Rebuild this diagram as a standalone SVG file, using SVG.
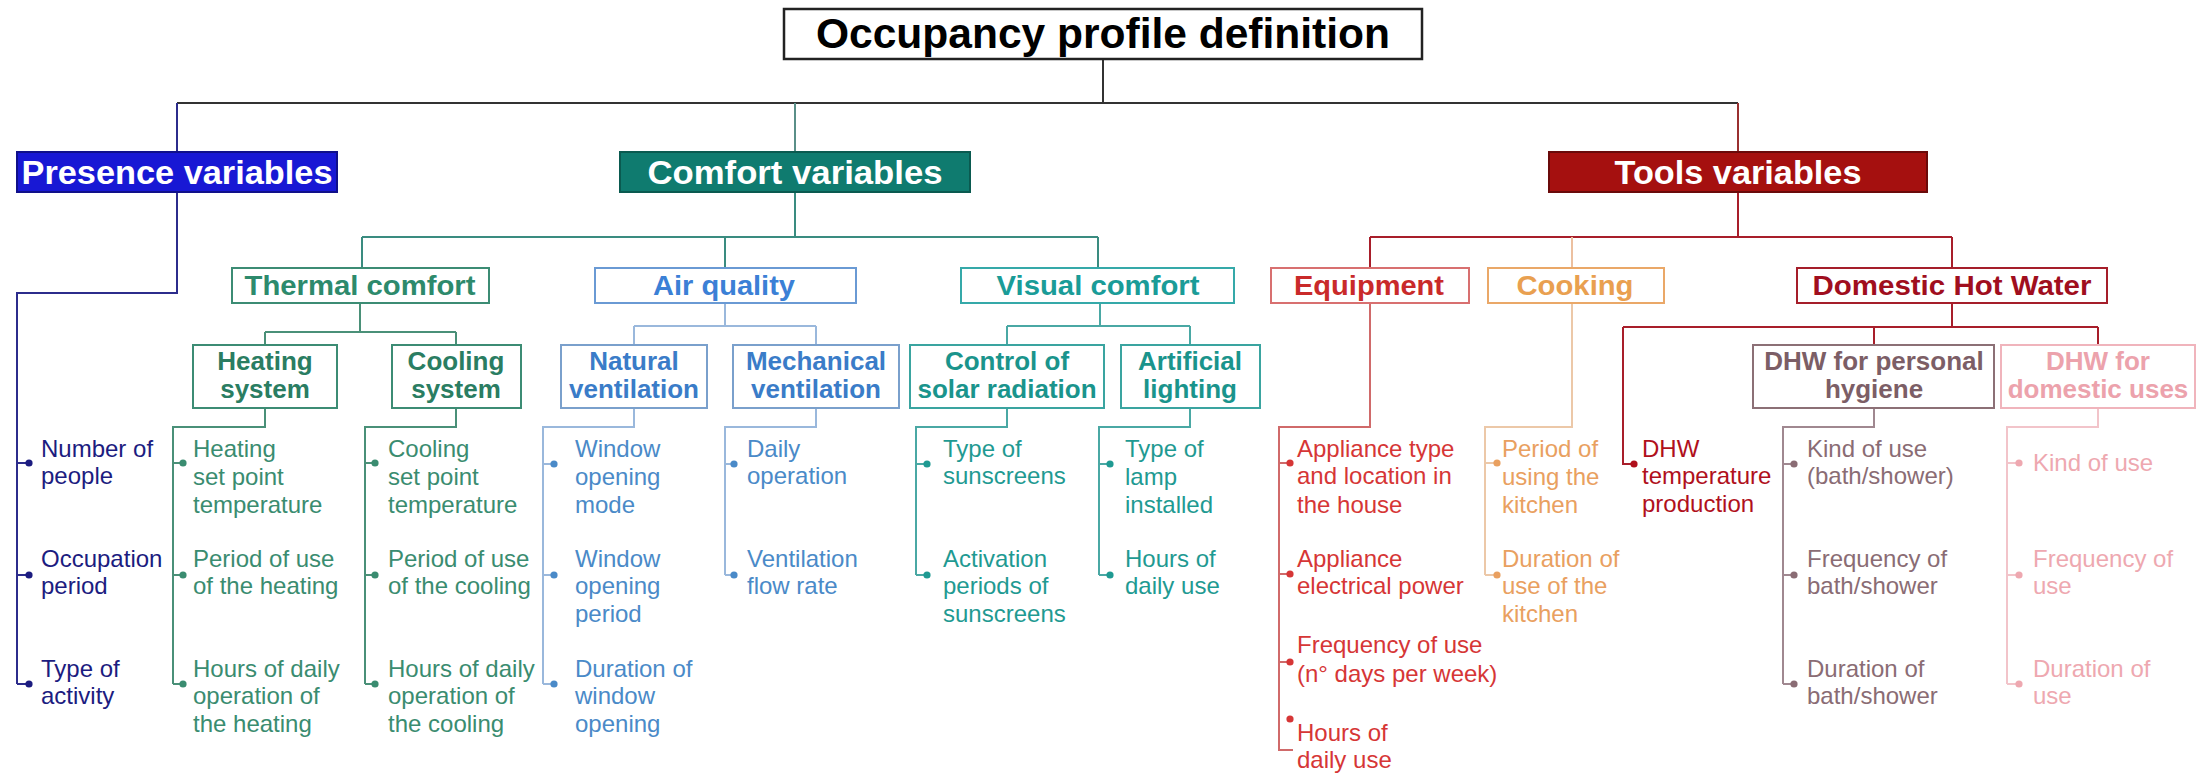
<svg xmlns="http://www.w3.org/2000/svg" width="2206" height="777" viewBox="0 0 2206 777">
<style>
text{font-family:"Liberation Sans",Arial,Helvetica,sans-serif}
.t0{font-size:42px;font-weight:bold;fill:#000;text-anchor:middle}
.t1{font-size:34px;font-weight:bold;fill:#fff;text-anchor:middle}
.t2{font-size:27px;font-weight:bold;text-anchor:middle}
.t3{font-size:26px;font-weight:bold;text-anchor:middle}
.lf{font-size:24px}
.cn path{fill:none;stroke-width:2}
.bx{fill:#fff;stroke-width:2}
</style>
<defs>
<circle id="dot" r="3.6"/>
</defs>

<g id="connectors" class="cn">
  <path d="M1103 59V103M177 103H1738" stroke="#333"/>
  <path d="M177 103V152M177 192V293H17V684M17 463H29M17 575H29M17 684H29" stroke="#2c2c8c"/>
  <path d="M795 103V152" stroke="#5a8f88"/>
  <path d="M1738 103V152" stroke="#9a3030"/>
  <path d="M795 192V237M362 237H1098M362 237V268M725 237V268M1098 237V268" stroke="#3a8c80"/>
  <path d="M360 303V332M265 332H456M265 332V345M456 332V345" stroke="#4a9078"/>
  <path d="M265 408V427H173V684M173 463H183M173 575H183M173 684H183" stroke="#4a9078"/>
  <path d="M456 408V427H365V684M365 463H375M365 575H375M365 684H375" stroke="#4a9078"/>
  <path d="M725 303V326M634 326H816M634 326V345M816 326V345" stroke="#9ab8dc"/>
  <path d="M634 408V427H543V684M543 464H554M543 575H554M543 684H554" stroke="#9ab8dc"/>
  <path d="M816 408V427H725V575M725 464H734M725 575H734" stroke="#9ab8dc"/>
  <path d="M1100 303V326M1007 326H1190M1007 326V345M1190 326V345" stroke="#4aa8a4"/>
  <path d="M1007 408V427H916V575M916 464H927M916 575H927" stroke="#4aa8a4"/>
  <path d="M1190 408V427H1099V575M1099 464H1110M1099 575H1110" stroke="#4aa8a4"/>
  <path d="M1738 192V237M1370 237H1952M1370 237V268M1952 237V268" stroke="#a81e2a"/>
  <path d="M1572 237V268" stroke="#ecc0a0"/>
  <path d="M1370 303V427H1279V750H1293M1279 463H1290M1279 574H1290M1279 662H1290" stroke="#d06a6a"/>
  <path d="M1572 303V427H1485V575M1485 463H1497M1485 575H1497" stroke="#ecc8a8"/>
  <path d="M1952 303V327M1623 327H2098M1623 327V464H1634M1874 327V345M2098 327V345" stroke="#a81e2a"/>
  <path d="M1874 408V427H1783V684M1783 464H1794M1783 575H1794M1783 684H1794" stroke="#a08890"/>
  <path d="M2098 408V427H2007V684M2007 463H2019M2007 575H2019M2007 684H2019" stroke="#f2c4ca"/>
</g>

<g id="root">
  <rect x="784" y="9" width="638" height="50" fill="#fff" stroke="#222" stroke-width="2.5"/>
  <text class="t0" x="1103" y="48" textLength="574" lengthAdjust="spacingAndGlyphs">Occupancy profile definition</text>
</g>

<g id="presence">
  <rect x="17" y="152" width="320" height="40" fill="#1818d4" stroke="#10108a" stroke-width="2"/>
  <text class="t1" x="177" y="184" textLength="311" lengthAdjust="spacingAndGlyphs">Presence variables</text>
</g>
<g id="comfort">
  <rect x="620" y="152" width="350" height="40" fill="#0f7b6f" stroke="#0a5a50" stroke-width="2"/>
  <text class="t1" x="795" y="184" textLength="295" lengthAdjust="spacingAndGlyphs">Comfort variables</text>
</g>
<g id="tools">
  <rect x="1549" y="152" width="378" height="40" fill="#a5100f" stroke="#6a0a0a" stroke-width="2"/>
  <text class="t1" x="1738" y="184" textLength="247" lengthAdjust="spacingAndGlyphs">Tools variables</text>
</g>

<g id="thermal">
  <rect class="bx" x="232" y="268" width="257" height="35" stroke="#3c8c74"/>
  <text class="t2" x="360" y="295" fill="#2d8a6c" textLength="231" lengthAdjust="spacingAndGlyphs">Thermal comfort</text>
</g>
<g id="air">
  <rect class="bx" x="595" y="268" width="261" height="35" stroke="#6a9ad4"/>
  <text class="t2" x="724" y="295" fill="#3b80d6" textLength="142" lengthAdjust="spacingAndGlyphs">Air quality</text>
</g>
<g id="visual">
  <rect class="bx" x="961" y="268" width="273" height="35" stroke="#35a9a9"/>
  <text class="t2" x="1098" y="295" fill="#1a9c98" textLength="203" lengthAdjust="spacingAndGlyphs">Visual comfort</text>
</g>
<g id="equipment">
  <rect class="bx" x="1271" y="268" width="198" height="35" stroke="#d87070"/>
  <text class="t2" x="1369" y="295" fill="#c92a2a" textLength="150" lengthAdjust="spacingAndGlyphs">Equipment</text>
</g>
<g id="cooking">
  <rect class="bx" x="1488" y="268" width="176" height="35" stroke="#eaa868"/>
  <text class="t2" x="1575" y="295" fill="#e9a050" textLength="117" lengthAdjust="spacingAndGlyphs">Cooking</text>
</g>
<g id="dhw">
  <rect class="bx" x="1797" y="268" width="310" height="35" stroke="#a51e2a"/>
  <text class="t2" x="1952" y="295" fill="#a00e1e" textLength="279" lengthAdjust="spacingAndGlyphs">Domestic Hot Water</text>
</g>

<g id="heating">
  <rect class="bx" x="193" y="345" width="144" height="63" stroke="#3c8c74"/>
  <text class="t3" fill="#2a7d62"><tspan x="265" y="370">Heating</tspan><tspan x="265" y="398">system</tspan></text>
</g>
<g id="cooling">
  <rect class="bx" x="392" y="345" width="129" height="63" stroke="#3c8c74"/>
  <text class="t3" fill="#2a7d62"><tspan x="456" y="370">Cooling</tspan><tspan x="456" y="398">system</tspan></text>
</g>
<g id="natural">
  <rect class="bx" x="561" y="345" width="146" height="63" stroke="#7aa0cc"/>
  <text class="t3" fill="#3a7cc8"><tspan x="634" y="370">Natural</tspan><tspan x="634" y="398">ventilation</tspan></text>
</g>
<g id="mechanical">
  <rect class="bx" x="733" y="345" width="166" height="63" stroke="#7aa0cc"/>
  <text class="t3" fill="#3a7cc8"><tspan x="816" y="370">Mechanical</tspan><tspan x="816" y="398">ventilation</tspan></text>
</g>
<g id="solar">
  <rect class="bx" x="910" y="345" width="194" height="63" stroke="#3aa4a0"/>
  <text class="t3" fill="#1a948c"><tspan x="1007" y="370">Control of</tspan><tspan x="1007" y="398">solar radiation</tspan></text>
</g>
<g id="lighting">
  <rect class="bx" x="1121" y="345" width="139" height="63" stroke="#3aa4a0"/>
  <text class="t3" fill="#1a948c"><tspan x="1190" y="370">Artificial</tspan><tspan x="1190" y="398">lighting</tspan></text>
</g>
<g id="dhw-personal">
  <rect class="bx" x="1753" y="345" width="241" height="63" stroke="#8c7076"/>
  <text class="t3" fill="#7c5e66"><tspan x="1874" y="370">DHW for personal</tspan><tspan x="1874" y="398">hygiene</tspan></text>
</g>
<g id="dhw-domestic">
  <rect class="bx" x="2001" y="345" width="194" height="63" stroke="#f0b4bc"/>
  <text class="t3" fill="#eca2ac"><tspan x="2098" y="370">DHW for</tspan><tspan x="2098" y="398">domestic uses</tspan></text>
</g>

<g id="presence-leaves" fill="#1c1c80">
  <use href="#dot" x="29" y="463"/><use href="#dot" x="29" y="575"/><use href="#dot" x="29" y="684"/>
  <text class="lf"><tspan x="41" y="457">Number of</tspan><tspan x="41" y="484">people</tspan></text>
  <text class="lf"><tspan x="41" y="567">Occupation</tspan><tspan x="41" y="594">period</tspan></text>
  <text class="lf"><tspan x="41" y="677">Type of</tspan><tspan x="41" y="704">activity</tspan></text>
</g>
<g id="heating-leaves" fill="#3a8c70">
  <use href="#dot" x="183" y="463"/><use href="#dot" x="183" y="575"/><use href="#dot" x="183" y="684"/>
  <text class="lf"><tspan x="193" y="457">Heating</tspan><tspan x="193" y="485">set point</tspan><tspan x="193" y="513">temperature</tspan></text>
  <text class="lf"><tspan x="193" y="567">Period of use</tspan><tspan x="193" y="594">of the heating</tspan></text>
  <text class="lf"><tspan x="193" y="677">Hours of daily</tspan><tspan x="193" y="704">operation of</tspan><tspan x="193" y="732">the heating</tspan></text>
</g>
<g id="cooling-leaves" fill="#3a8c70">
  <use href="#dot" x="375" y="463"/><use href="#dot" x="375" y="575"/><use href="#dot" x="375" y="684"/>
  <text class="lf"><tspan x="388" y="457">Cooling</tspan><tspan x="388" y="485">set point</tspan><tspan x="388" y="513">temperature</tspan></text>
  <text class="lf"><tspan x="388" y="567">Period of use</tspan><tspan x="388" y="594">of the cooling</tspan></text>
  <text class="lf"><tspan x="388" y="677">Hours of daily</tspan><tspan x="388" y="704">operation of</tspan><tspan x="388" y="732">the cooling</tspan></text>
</g>
<g id="natural-leaves" fill="#4a8ac8">
  <use href="#dot" x="554" y="464"/><use href="#dot" x="554" y="575"/><use href="#dot" x="554" y="684"/>
  <text class="lf"><tspan x="575" y="457">Window</tspan><tspan x="575" y="485">opening</tspan><tspan x="575" y="513">mode</tspan></text>
  <text class="lf"><tspan x="575" y="567">Window</tspan><tspan x="575" y="594">opening</tspan><tspan x="575" y="622">period</tspan></text>
  <text class="lf"><tspan x="575" y="677">Duration of</tspan><tspan x="575" y="704">window</tspan><tspan x="575" y="732">opening</tspan></text>
</g>
<g id="mechanical-leaves" fill="#4a8ac8">
  <use href="#dot" x="734" y="464"/><use href="#dot" x="734" y="575"/>
  <text class="lf"><tspan x="747" y="457">Daily</tspan><tspan x="747" y="484">operation</tspan></text>
  <text class="lf"><tspan x="747" y="567">Ventilation</tspan><tspan x="747" y="594">flow rate</tspan></text>
</g>
<g id="solar-leaves" fill="#1f9a92">
  <use href="#dot" x="927" y="464"/><use href="#dot" x="927" y="575"/>
  <text class="lf"><tspan x="943" y="457">Type of</tspan><tspan x="943" y="484">sunscreens</tspan></text>
  <text class="lf"><tspan x="943" y="567">Activation</tspan><tspan x="943" y="594">periods of</tspan><tspan x="943" y="622">sunscreens</tspan></text>
</g>
<g id="lighting-leaves" fill="#1f9a92">
  <use href="#dot" x="1110" y="464"/><use href="#dot" x="1110" y="575"/>
  <text class="lf"><tspan x="1125" y="457">Type of</tspan><tspan x="1125" y="485">lamp</tspan><tspan x="1125" y="513">installed</tspan></text>
  <text class="lf"><tspan x="1125" y="567">Hours of</tspan><tspan x="1125" y="594">daily use</tspan></text>
</g>
<g id="equipment-leaves" fill="#d63636">
  <use href="#dot" x="1290" y="463"/><use href="#dot" x="1290" y="574"/><use href="#dot" x="1290" y="662"/><use href="#dot" x="1290" y="719"/>
  <text class="lf"><tspan x="1297" y="457">Appliance type</tspan><tspan x="1297" y="484">and location in</tspan><tspan x="1297" y="513">the house</tspan></text>
  <text class="lf"><tspan x="1297" y="567">Appliance</tspan><tspan x="1297" y="594">electrical power</tspan></text>
  <text class="lf"><tspan x="1297" y="653">Frequency of use</tspan><tspan x="1297" y="682">(n° days per week)</tspan></text>
  <text class="lf"><tspan x="1297" y="741">Hours of</tspan><tspan x="1297" y="768">daily use</tspan></text>
</g>
<g id="cooking-leaves" fill="#e9a060">
  <use href="#dot" x="1497" y="463"/><use href="#dot" x="1497" y="575"/>
  <text class="lf"><tspan x="1502" y="457">Period of</tspan><tspan x="1502" y="485">using the</tspan><tspan x="1502" y="513">kitchen</tspan></text>
  <text class="lf"><tspan x="1502" y="567">Duration of</tspan><tspan x="1502" y="594">use of the</tspan><tspan x="1502" y="622">kitchen</tspan></text>
</g>
<g id="dhw-temp-leaf" fill="#b0101c">
  <use href="#dot" x="1634" y="464"/>
  <text class="lf"><tspan x="1642" y="457">DHW</tspan><tspan x="1642" y="484">temperature</tspan><tspan x="1642" y="512">production</tspan></text>
</g>
<g id="dhw-personal-leaves" fill="#8a6c74">
  <use href="#dot" x="1794" y="464"/><use href="#dot" x="1794" y="575"/><use href="#dot" x="1794" y="684"/>
  <text class="lf"><tspan x="1807" y="457">Kind of use</tspan><tspan x="1807" y="484">(bath/shower)</tspan></text>
  <text class="lf"><tspan x="1807" y="567">Frequency of</tspan><tspan x="1807" y="594">bath/shower</tspan></text>
  <text class="lf"><tspan x="1807" y="677">Duration of</tspan><tspan x="1807" y="704">bath/shower</tspan></text>
</g>
<g id="dhw-domestic-leaves" fill="#eea8b0">
  <use href="#dot" x="2019" y="463"/><use href="#dot" x="2019" y="575"/><use href="#dot" x="2019" y="684"/>
  <text class="lf"><tspan x="2033" y="471">Kind of use</tspan></text>
  <text class="lf"><tspan x="2033" y="567">Frequency of</tspan><tspan x="2033" y="594">use</tspan></text>
  <text class="lf"><tspan x="2033" y="677">Duration of</tspan><tspan x="2033" y="704">use</tspan></text>
</g>
</svg>
